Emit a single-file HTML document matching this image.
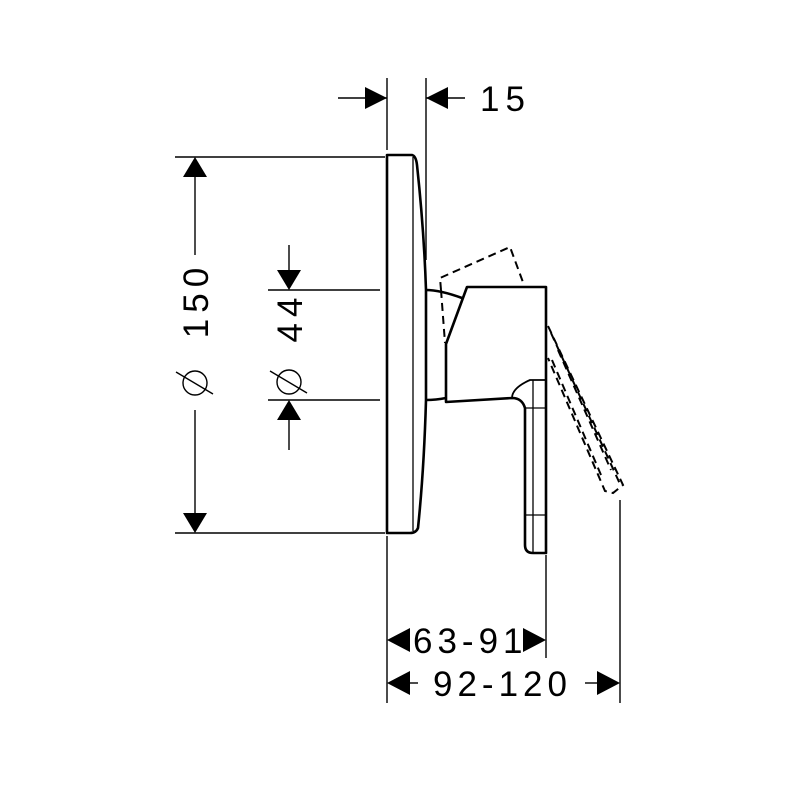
<!DOCTYPE html>
<html><head><meta charset="utf-8"><style>html,body{margin:0;padding:0;background:#fff}svg{display:block}</style></head><body>
<svg width="800" height="800" viewBox="0 0 800 800" xmlns="http://www.w3.org/2000/svg" font-family="Liberation Sans, sans-serif">
<g stroke="#000" stroke-width="1.4" fill="none">
<line x1="387" y1="78" x2="387" y2="150"/>
<line x1="426" y1="78" x2="426" y2="260"/>
<line x1="387" y1="536" x2="387" y2="703"/>
<line x1="546" y1="555" x2="546" y2="658"/>
<line x1="620" y1="500" x2="620" y2="703"/>
<line x1="175" y1="157" x2="385" y2="157"/>
<line x1="175" y1="533" x2="385" y2="533"/>
<line x1="268" y1="290" x2="380" y2="290"/>
<line x1="268" y1="400" x2="380" y2="400"/>
<line x1="338" y1="98" x2="387" y2="98"/>
<line x1="426" y1="98" x2="465" y2="98"/>
<line x1="195" y1="175" x2="195" y2="255"/>
<line x1="195" y1="410" x2="195" y2="515"/>
<line x1="289" y1="245" x2="289" y2="272"/>
<line x1="289" y1="418" x2="289" y2="450"/>
<line x1="405" y1="683" x2="418" y2="683"/>
<line x1="585" y1="683" x2="600" y2="683"/>
<circle cx="195" cy="383" r="12"/><line x1="176" y1="372" x2="213" y2="394"/>
<circle cx="289" cy="382" r="12"/><line x1="270" y1="371" x2="307" y2="393"/>
</g>
<g fill="#000">
<polygon points="365,87 387,98 365,109"/>
<polygon points="448,87 426,98 448,109"/>
<polygon points="183,177 195,157 207,177"/>
<polygon points="183,513 195,533 207,513"/>
<polygon points="277,270 289,290 301,270"/>
<polygon points="277,420 289,400 301,420"/>
<polygon points="410,628 387,640 410,652"/>
<polygon points="523,628 546,640 523,652"/>
<polygon points="410,671 387,683 410,695"/>
<polygon points="597,671 620,683 597,695"/>
</g>
<g font-size="35" fill="#000">
<text x="480" y="111" letter-spacing="6">15</text>
<text transform="translate(208,300) rotate(-90)" text-anchor="middle" letter-spacing="6">150</text>
<text transform="translate(302,317) rotate(-90)" text-anchor="middle" letter-spacing="6">44</text>
<text x="413" y="653" letter-spacing="5">63-91</text>
<text x="433" y="696" letter-spacing="5">92-120</text>
</g>
<g stroke="#000" stroke-width="2.6" fill="none" stroke-linejoin="round">
<path d="M387,155 L412,155 Q416,156 417,165 Q424,230 426,290 L426,400 Q424,470 418,528 Q416,533 410,533 L387,533 Z"/>
<line x1="413" y1="157" x2="413" y2="531" stroke-width="1.3"/>
<path d="M426,290 Q440,290 462,298"/>
<path d="M426,400 Q436,400 446,398"/>
<path d="M467,287 L546,287 L546,553 L533,553 Q525,553 525,545 L525,408 Q522,398 512,398 L446,402 L446,344 Z"/>
<path d="M512,398 Q512,388 530,380 L546,380" stroke-width="1.8"/>
<line x1="533" y1="380" x2="533" y2="553" stroke-width="1.3"/>
<line x1="525" y1="408" x2="546" y2="408" stroke-width="1.3"/>
<line x1="525" y1="515" x2="546" y2="515" stroke-width="1.3"/>
</g>
<g stroke="#000" stroke-width="2" fill="none" stroke-dasharray="8,5">
<path d="M441,290 L440,278 L510,247 L524,285"/>
<line x1="441" y1="290" x2="445" y2="343"/>
<path d="M548,326 L623,485 L613,493 L605,491 L548,358"/>
<path d="M551,333 L620,484"/>
<path d="M552,360 L601,475"/>
<path d="M558,350 L611,470"/>
</g>
</svg>
</body></html>
